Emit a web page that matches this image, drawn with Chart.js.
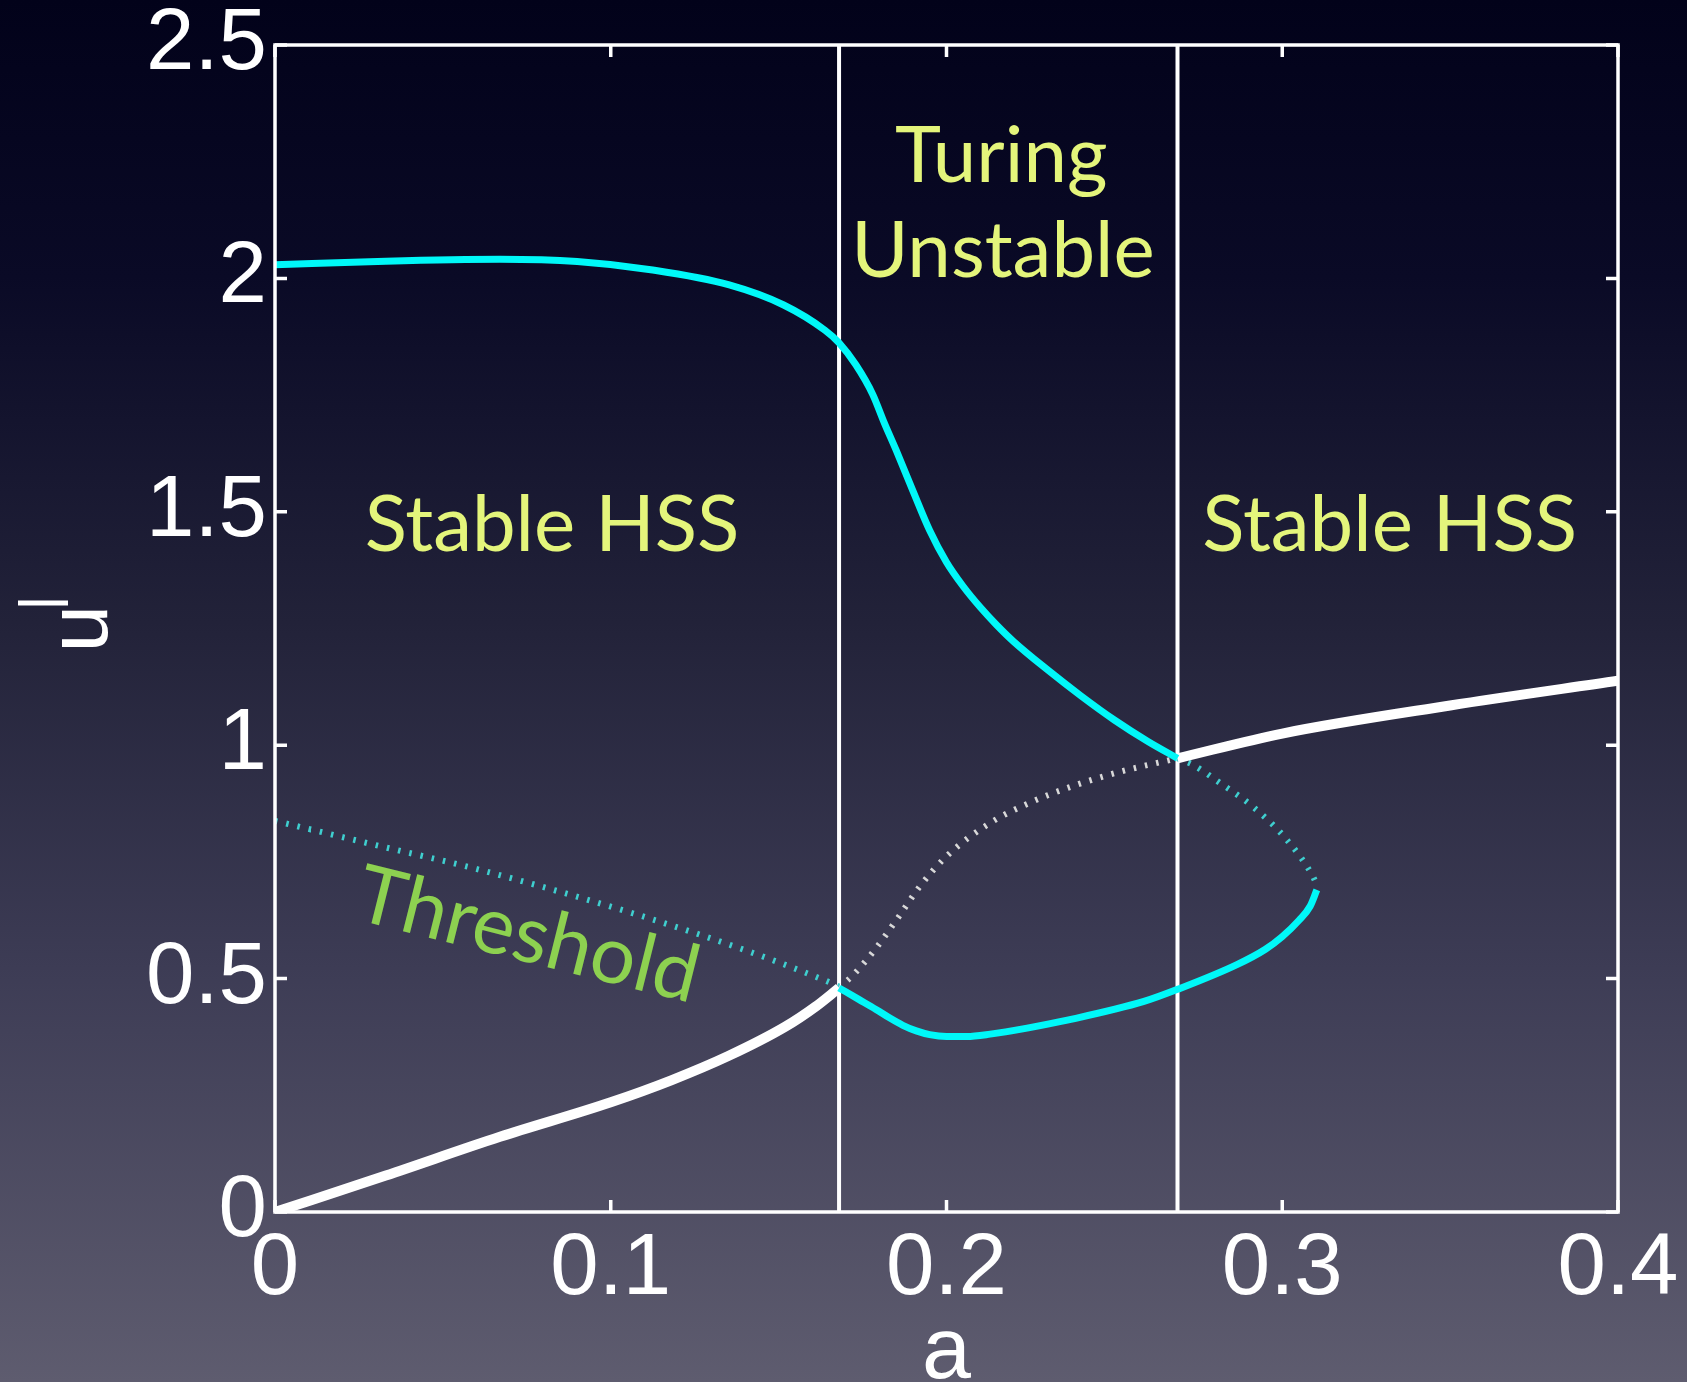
<!DOCTYPE html>
<html lang="en">
<head>
<meta charset="UTF-8">
<title>Turing unstable region</title>
<script src="https://cdn.jsdelivr.net/npm/chart.js"></script>
<style>
  html, body { margin: 0; padding: 0; }
  body {
    width: 1687px; height: 1382px; overflow: hidden;
    background: linear-gradient(to bottom, #02021a 0%, #0a0a26 20%, #222239 45%, #3d3c55 70%, #5e5c6f 100%);
  }
  canvas { display: block; }
</style>
</head>
<body>
<canvas id="diagram" width="1687" height="1382"></canvas>
<script>
// branches of u-bar against a
const upperCyanA = [0, 0.033, 0.067, 0.09, 0.1125, 0.1353, 0.1515, 0.1638, 0.168, 0.173, 0.178, 0.1815, 0.185, 0.19, 0.195, 0.2, 0.205, 0.21, 0.215, 0.22, 0.23, 0.24, 0.25, 0.26, 0.2688];
const upperCyanU = [2.029, 2.037, 2.041, 2.036, 2.018, 1.986, 1.943, 1.889, 1.862, 1.815, 1.752, 1.69, 1.632, 1.545, 1.46, 1.392, 1.34, 1.296, 1.257, 1.222, 1.162, 1.106, 1.054, 1.008, 0.972];

const lowWhiteA = [0, 0.033, 0.067, 0.1, 0.118, 0.135, 0.152, 0.161, 0.168];
const lowWhiteU = [0, 0.078, 0.161, 0.235, 0.282, 0.334, 0.397, 0.44, 0.48];

const thresholdA = [0, 0.03, 0.061, 0.1065, 0.14, 0.1635, 0.168];
const thresholdU = [0.838, 0.786, 0.733, 0.64, 0.561, 0.497, 0.483];

const lowCyanA = [0.168, 0.174, 0.179, 0.183, 0.187, 0.191, 0.195, 0.2, 0.206, 0.213, 0.224, 0.236, 0.2588, 0.2692, 0.2865, 0.295, 0.3, 0.305, 0.3083, 0.3103];
const lowCyanU = [0.48, 0.455, 0.434, 0.416, 0.4, 0.388, 0.38, 0.376, 0.376, 0.381, 0.394, 0.411, 0.451, 0.478, 0.53, 0.563, 0.59, 0.625, 0.655, 0.69];

const returnCyanA = [0.2688, 0.2734, 0.2815, 0.2913, 0.3014, 0.3092, 0.3103];
const returnCyanU = [0.972, 0.958, 0.919, 0.868, 0.797, 0.718, 0.70];

const midWhiteA = [0.168, 0.1725, 0.179, 0.186, 0.192, 0.2, 0.2127, 0.2255, 0.2383, 0.2511, 0.2688];
const midWhiteU = [0.48, 0.51, 0.565, 0.635, 0.697, 0.762, 0.832, 0.879, 0.914, 0.942, 0.972];

const upperWhiteA = [0.2688, 0.3, 0.35, 0.4];
const upperWhiteU = [0.972, 1.025, 1.085, 1.138];

// region borders
const boundaryA = [0.168, 0.2688];

const xTickLabels = ['0', '0.1', '0.2', '0.3', '0.4'];
const yTickLabels = ['0', '0.5', '1', '1.5', '2', '2.5'];

// region labels (text, a, u at baseline, rotation in degrees)
const noteText = ['Stable HSS', 'Stable HSS', 'Turing', 'Unstable', 'Threshold'];
const noteA = [0.0825, 0.332, 0.2163, 0.2168, 0.0735];
const noteU = [1.416, 1.416, 2.207, 2.003, 0.538];
const noteAngle = [0, 0, 0, 0, 14];

const toPoints = (xs, ys) => xs.map((x, i) => ({ x: x, y: ys[i] }));

const helv = '"Liberation Sans", Arial, Helvetica, sans-serif';
const cyan = '#00f8f8';

function solid(xs, ys, color, width) {
  return { data: toPoints(xs, ys), showLine: true, borderColor: color, borderWidth: width,
           pointRadius: 0, cubicInterpolationMode: 'monotone', fill: false };
}
function dotted(xs, ys, color) {
  return { data: toPoints(xs, ys), showLine: true, borderColor: color, borderWidth: 6,
           borderDash: [2.5, 9], borderCapStyle: 'butt', pointRadius: 0,
           cubicInterpolationMode: 'monotone', fill: false };
}

const datasets = [
  solid(upperCyanA, upperCyanU, cyan, 7),
  solid(lowCyanA, lowCyanU, cyan, 7),
  solid(lowWhiteA, lowWhiteU, '#ffffff', 10),
  solid(upperWhiteA, upperWhiteU, '#ffffff', 10),
  dotted(thresholdA, thresholdU, '#3fcfcf'),
  dotted(returnCyanA, returnCyanU, '#3fcfcf'),
  dotted(midWhiteA, midWhiteU, '#d8d8d8')
];
boundaryA.forEach(a => {
  datasets.push({ data: [{ x: a, y: 0 }, { x: a, y: 2.5 }], showLine: true, borderColor: '#ffffff',
                  borderWidth: 4, pointRadius: 0, fill: false });
});

// box, inward ticks, labels inside the plot
const frame = {
  id: 'frame',
  afterDatasetsDraw(chart) {
    const { ctx, chartArea: c, scales: { x, y } } = chart;
    ctx.save();
    ctx.strokeStyle = '#ffffff';
    ctx.lineWidth = 3.5;
    ctx.strokeRect(c.left, c.top, c.right - c.left, c.bottom - c.top);

    ctx.beginPath();
    x.ticks.forEach((t, i) => {
      const px = x.getPixelForTick(i);
      ctx.moveTo(px, c.bottom); ctx.lineTo(px, c.bottom - 12);
      ctx.moveTo(px, c.top); ctx.lineTo(px, c.top + 12);
    });
    y.ticks.forEach((t, i) => {
      const py = y.getPixelForTick(i);
      ctx.moveTo(c.left, py); ctx.lineTo(c.left + 12, py);
      ctx.moveTo(c.right, py); ctx.lineTo(c.right - 12, py);
    });
    ctx.stroke();

    // bar of the u-bar label, left unrotated as in the figure
    ctx.fillStyle = '#ffffff';
    ctx.fillRect(c.left - 257, y.getPixelForValue(1.31), 50, 5);

    ctx.textAlign = 'center';
    ctx.textBaseline = 'alphabetic';
    noteText.forEach((txt, i) => {
      ctx.save();
      ctx.translate(x.getPixelForValue(noteA[i]), y.getPixelForValue(noteU[i]));
      ctx.rotate(noteAngle[i] * Math.PI / 180);
      if (txt === 'Threshold') {
        ctx.fillStyle = '#8dd150';
        ctx.font = '80px Lato, "Open Sans", sans-serif';
      } else {
        ctx.fillStyle = '#e4f57b';
        ctx.font = '78px Lato, "Open Sans", sans-serif';
      }
      ctx.fillText(txt, 0, 0);
      ctx.restore();
    });
    ctx.restore();
  }
};

new Chart(document.getElementById('diagram'), {
  type: 'scatter',
  data: { datasets: datasets },
  options: {
    responsive: false,
    animation: false,
    devicePixelRatio: 1,
    layout: { padding: { top: 45, right: 69, left: 0, bottom: 0 } },
    plugins: { legend: { display: false }, tooltip: { enabled: false } },
    scales: {
      x: {
        type: 'linear', min: 0, max: 0.4, position: 'bottom',
        afterFit: s => { s.height = 170; },
        grid: { display: false, drawTicks: false },
        border: { display: false },
        ticks: {
          stepSize: 0.1, autoSkip: false, maxRotation: 0, padding: 6, color: '#ffffff',
          font: { family: helv, size: 87, lineHeight: 1.2 },
          callback: (v, i) => xTickLabels[i]
        },
        title: {
          display: true, text: 'a', color: '#ffffff',
          font: { family: helv, size: 88, lineHeight: 0.6 },
          padding: { top: 0, bottom: 2 }
        }
      },
      y: {
        type: 'linear', min: 0, max: 2.5,
        afterFit: s => { s.width = 275; },
        grid: { display: false, drawTicks: false },
        border: { display: false },
        ticks: {
          stepSize: 0.5, padding: 8, color: '#ffffff',
          font: { family: helv, size: 87, lineHeight: 0.4 },
          callback: (v, i) => yTickLabels[i]
        },
        title: {
          display: true, text: 'u', color: '#ffffff',
          font: { family: helv, size: 86, lineHeight: 1 },
          padding: { top: 40, bottom: 0 }
        }
      }
    }
  },
  plugins: [frame]
});
</script>
</body>
</html>
